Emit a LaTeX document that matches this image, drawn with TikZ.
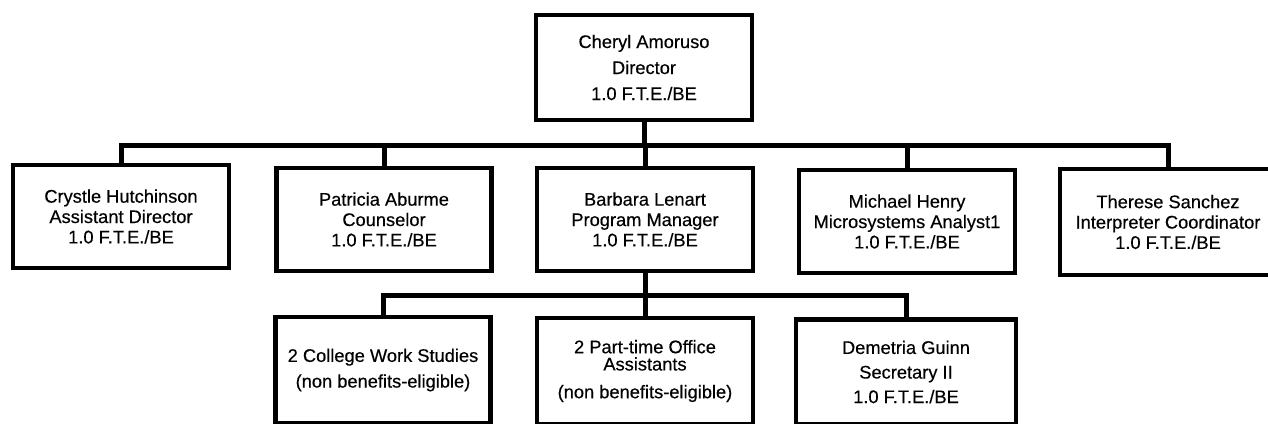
\documentclass[tikz,border=0pt]{standalone}
\usepackage{fontspec}
\setmainfont{Liberation Sans}[FakeBold=0.4]
\begin{document}
\begin{tikzpicture}[x=0.02cm,y=-0.02cm,
  box/.style={draw, line width=0.09cm, inner sep=0pt, align=center, minimum width=4.32cm, minimum height=2.06cm},
  ftop/.style={font=\fontsize{10.4}{14.8}\selectfont},
  fone/.style={font=\fontsize{10.4}{11.6}\selectfont},
  ftwo/.style={font=\fontsize{10.4}{14.6}\selectfont},
  conn/.style={line width=0.1cm, line join=miter}]
\useasboundingbox (0,0) rectangle (1268,423);
\clip (0,0) rectangle (1268,423);
% director
\node[box, ftop, minimum height=2.1cm] (dir) at (644,67.5) {Cheryl Amoruso\\Director\\1.0 F.T.E./BE};
% level 1
\node[box, fone] (c1) at (121,216.5) {Crystle Hutchinson\\Assistant Director\\1.0 F.T.E./BE};
\node[box, fone, minimum width=4.3cm] (c2) at (384,219.5) {Patricia Aburme\\Counselor\\1.0 F.T.E./BE};
\node[box, fone] (c3) at (645,219.5) {Barbara Lenart\\Program Manager\\1.0 F.T.E./BE};
\node[box, fone] (c4) at (907,221.5) {Michael Henry\\Microsystems Analyst1\\1.0 F.T.E./BE};
\node[box, fone, minimum height=2.12cm] (c5) at (1168,222) {Therese Sanchez\\Interpreter Coordinator\\1.0 F.T.E./BE};
% level 2
\node[box, ftwo, minimum height=2.12cm, minimum width=4.3cm] (d1) at (383,370) {2 College Work Studies\\(non benefits-eligible)};
\node[box, font=\fontsize{10.4}{9.8}\selectfont, minimum height=2.12cm] (d2) at (645,371) {2 Part-time Office\\Assistants\\[6pt](non benefits-eligible)};
\node[box, font=\fontsize{10.4}{14}\selectfont, minimum height=2.1cm, minimum width=4.4cm] (d3) at (906,372) {Demetria Guinn\\Secretary II\\1.0 F.T.E./BE};
% connectors
\coordinate (bus) at (644,145);
\draw[conn] (dir.south) -- (bus);
\draw[conn] (c1.north) |- (bus) -| (c5.north);
\draw[conn] (c2.north) -- (c2.north |- bus);
\draw[conn] (c3.north) -- (c3.north |- bus);
\draw[conn] (c4.north) -- (c4.north |- bus);
\coordinate (bus2) at (645,295);
\draw[conn] (c3.south) -- (bus2);
\draw[conn] (d1.north) |- (bus2) -| (d3.north);
\draw[conn] (d2.north) -- (d2.north |- bus2);
\end{tikzpicture}
\end{document}
